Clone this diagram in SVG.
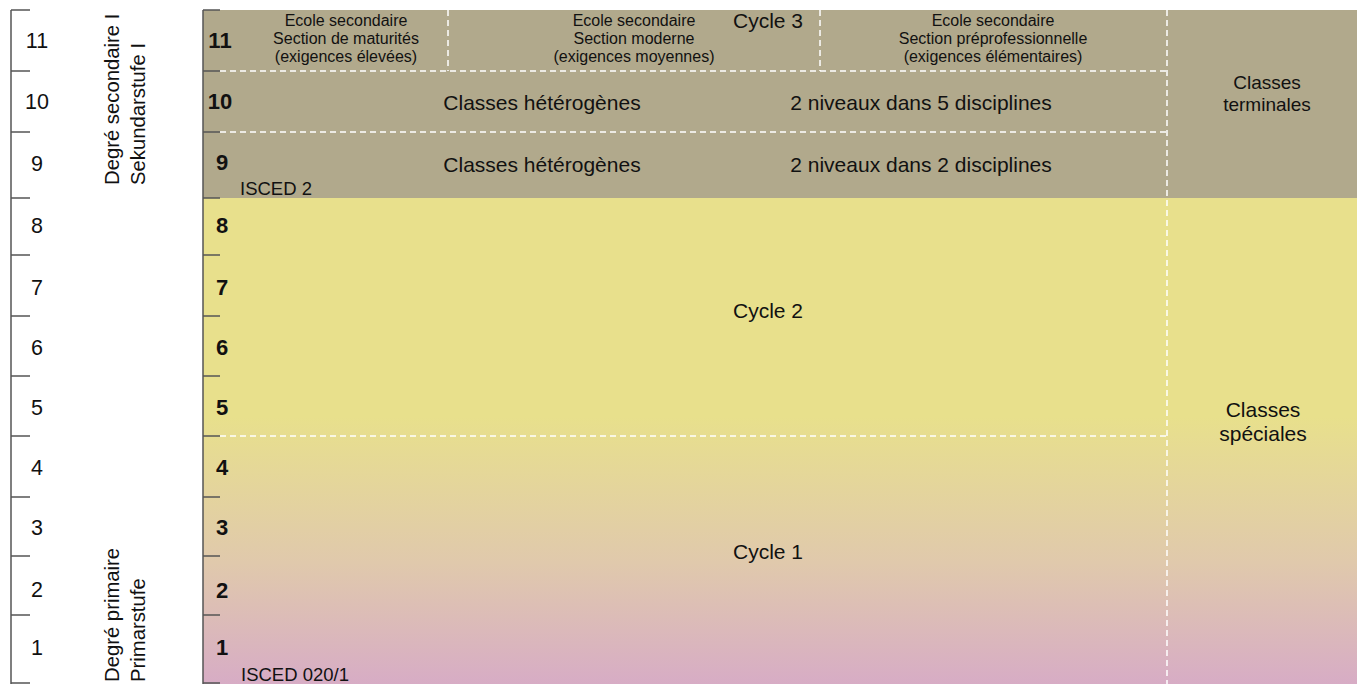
<svg xmlns="http://www.w3.org/2000/svg" width="1357" height="684" viewBox="0 0 1357 684">
  <style>
    text { font-family: "Liberation Sans", Arial, sans-serif; fill: #111; }
    .num { font-size: 21.5px; text-anchor: middle; }
    .bold { font-size: 22px; font-weight: bold; text-anchor: middle; }
    .big { font-size: 21px; text-anchor: middle; }
    .mid { font-size: 19px; text-anchor: middle; }
    .small { font-size: 16px; text-anchor: middle; }
    .isced { font-size: 18.5px; }
    .vert { font-size: 20.3px; }
    .axis { stroke: #555; stroke-width: 1.5; fill: none; }
    .dash { stroke: #fff; stroke-width: 1.5; stroke-dasharray: 6 4; fill: none; }
  </style>
  <defs>
    <linearGradient id="grad" gradientUnits="userSpaceOnUse" x1="0" y1="198" x2="0" y2="684">
      <stop offset="0" stop-color="#e8e08c"/>
      <stop offset="0.45" stop-color="#e8e08c"/>
      <stop offset="0.75" stop-color="#e0c9ac"/>
      <stop offset="1" stop-color="#d7acc5"/>
    </linearGradient>
  </defs>

  <g id="background">
    <rect x="203" y="198" width="1154" height="486" fill="url(#grad)"/>
    <rect x="203" y="10" width="1154" height="188" fill="#b1a98c"/>
  </g>

  <g id="scale">
    <path class="axis" d="M11 10 V684 M11 10 H30 M11 71 H30 M11 132 H30 M11 198 H30 M11 255 H30 M11 316 H30 M11 376 H30 M11 436 H30 M11 497 H30 M11 556 H30 M11 615 H30 M11 683 H30"/>
    <text class="num" x="37" y="48">11</text>
    <text class="num" x="37" y="109">10</text>
    <text class="num" x="37" y="171">9</text>
    <text class="num" x="37" y="233">8</text>
    <text class="num" x="37" y="295">7</text>
    <text class="num" x="37" y="355">6</text>
    <text class="num" x="37" y="415">5</text>
    <text class="num" x="37" y="475">4</text>
    <text class="num" x="37" y="535">3</text>
    <text class="num" x="37" y="597">2</text>
    <text class="num" x="37" y="655">1</text>
  </g>

  <g id="levels">
    <text class="vert" transform="translate(119,185) rotate(-90)">Degré secondaire I</text>
    <text class="vert" transform="translate(145,185) rotate(-90)">Sekundarstufe I</text>
    <text class="vert" transform="translate(119,682) rotate(-90)">Degré primaire</text>
    <text class="vert" transform="translate(145,682) rotate(-90)">Primarstufe</text>
  </g>

  <g id="grades">
    <path class="axis" d="M203 10 V684 M203 10 H220 M203 71 H220 M203 132 H220 M203 198 H220 M203 255 H220 M203 316 H220 M203 376 H220 M203 436 H220 M203 497 H220 M203 556 H220 M203 615 H220 M203 683 H220"/>
    <text class="bold" x="220" y="48">11</text>
    <text class="bold" x="220" y="109">10</text>
    <text class="bold" x="222" y="170">9</text>
    <text class="bold" x="222" y="233">8</text>
    <text class="bold" x="222" y="295">7</text>
    <text class="bold" x="222" y="355">6</text>
    <text class="bold" x="222" y="415">5</text>
    <text class="bold" x="222" y="475">4</text>
    <text class="bold" x="222" y="535">3</text>
    <text class="bold" x="222" y="598">2</text>
    <text class="bold" x="222" y="655">1</text>
  </g>

  <g id="connectors">
    <path class="dash" d="M220 71 H1167 M220 132 H1167 M448 10 V71 M820 10 V71 M1167 10 V684 M220 436 H1167"/>
  </g>

  <g id="section-maturites">
    <text class="small" x="346" y="26">Ecole secondaire</text>
    <text class="small" x="346" y="44">Section de maturités</text>
    <text class="small" x="346" y="62">(exigences élevées)</text>
  </g>
  <g id="section-moderne">
    <text class="small" x="634" y="26">Ecole secondaire</text>
    <text class="small" x="634" y="44">Section moderne</text>
    <text class="small" x="634" y="62">(exigences moyennes)</text>
  </g>
  <g id="section-preprofessionnelle">
    <text class="small" x="993" y="26">Ecole secondaire</text>
    <text class="small" x="993" y="44">Section préprofessionnelle</text>
    <text class="small" x="993" y="62">(exigences élémentaires)</text>
  </g>
  <g id="cycle3">
    <text class="big" x="768" y="28">Cycle 3</text>
  </g>

  <g id="grade10">
    <text class="big" x="542" y="110">Classes hétérogènes</text>
    <text class="big" x="921" y="110">2 niveaux dans 5 disciplines</text>
  </g>
  <g id="grade9">
    <text class="big" x="542" y="172">Classes hétérogènes</text>
    <text class="big" x="921" y="172">2 niveaux dans 2 disciplines</text>
    <text class="isced" x="240" y="195">ISCED 2</text>
  </g>

  <g id="cycle2">
    <text class="big" x="768" y="318">Cycle 2</text>
  </g>
  <g id="cycle1">
    <text class="big" x="768" y="559">Cycle 1</text>
    <text class="isced" x="241" y="681">ISCED 020/1</text>
  </g>

  <g id="classes-terminales">
    <text class="mid" x="1267" y="89">Classes</text>
    <text class="mid" x="1267" y="111">terminales</text>
  </g>
  <g id="classes-speciales">
    <text class="big" x="1263" y="417">Classes</text>
    <text class="big" x="1263" y="441">spéciales</text>
  </g>
</svg>
